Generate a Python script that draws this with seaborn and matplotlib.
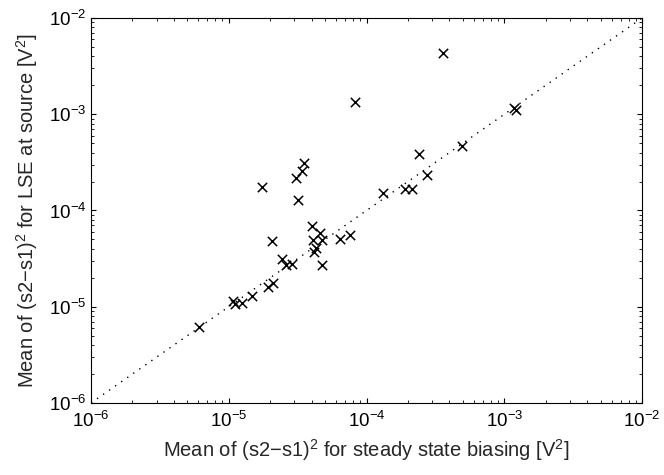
import numpy as np
import pandas as pd
import seaborn as sns
import matplotlib
matplotlib.use('Agg')
import matplotlib.pyplot as plt

# Mean of (s2-s1)^2 for steady state biasing vs. LSE at source [V^2]
steady_state = [8.27e-5, 3.61e-4, 1.18e-3, 1.22e-3, 4.95e-4, 2.40e-4, 2.73e-4,
                1.91e-4, 2.13e-4, 1.31e-4, 3.54e-5, 3.42e-5, 3.08e-5, 1.75e-5,
                3.20e-5, 4.04e-5, 4.11e-5, 4.59e-5, 4.78e-5, 4.18e-5, 4.28e-5,
                4.78e-5, 6.42e-5, 7.59e-5, 2.07e-5, 2.42e-5, 2.61e-5, 2.86e-5,
                1.94e-5, 2.08e-5, 1.48e-5, 1.08e-5, 1.11e-5, 1.24e-5, 6.1e-6]
lse_source = [1.35e-3, 4.30e-3, 1.15e-3, 1.12e-3, 4.71e-4, 3.86e-4, 2.34e-4,
              1.67e-4, 1.67e-4, 1.51e-4, 3.09e-4, 2.59e-4, 2.16e-4, 1.77e-4,
              1.29e-4, 6.90e-5, 4.94e-5, 5.79e-5, 4.94e-5, 3.68e-5, 4.05e-5,
              2.72e-5, 5.06e-5, 5.56e-5, 4.86e-5, 3.13e-5, 2.72e-5, 2.78e-5,
              1.59e-5, 1.75e-5, 1.29e-5, 1.16e-5, 1.07e-5, 1.10e-5, 6.1e-6]
diag = [1e-6, 1e-2]

sns.set_style("ticks")
plt.rcParams.update({
    'font.family': ['Liberation Sans', 'DejaVu Sans'],
    'mathtext.fontset': 'custom',
    'mathtext.rm': 'Liberation Sans',
    'mathtext.it': 'Liberation Sans',
    'xtick.major.size': 3.8,
    'ytick.major.size': 3.8,
    'xtick.minor.size': 1.9,
    'ytick.minor.size': 1.9,
    'axes.linewidth': 0.8,
})

df = pd.DataFrame({'x': steady_state, 'y': lse_source})

fig = plt.figure(figsize=(6.64, 4.75), dpi=100)
ax = fig.add_axes([0.137, 0.1516, 0.83, 0.8105])

sns.lineplot(x=diag, y=diag, ax=ax, color='black', linestyle=(0, (1, 4.3)),
             linewidth=1.0)
sns.scatterplot(data=df, x='x', y='y', ax=ax, marker='x', color='black',
                s=45, linewidth=1.1)

ax.set_xscale('log')
ax.set_yscale('log')
ax.set_xlim(1e-6, 1e-2)
ax.set_ylim(1e-6, 1e-2)
ax.tick_params(which='both', top=True, right=True, direction='in',
               labelsize=13.5, colors='black')
ax.tick_params(axis='x', which='both', pad=6)
ax.set_xlabel(r'Mean of (s2$-$s1)$^2$ for steady state biasing [V$^2$]',
              fontsize=14.5, labelpad=4)
ax.set_ylabel(r'Mean of (s2$-$s1)$^2$ for LSE at source [V$^2$]',
              fontsize=14.5, labelpad=6)
for s in ax.spines.values():
    s.set_visible(True)
    s.set_color('black')

fig.savefig('out.png', dpi=100)
